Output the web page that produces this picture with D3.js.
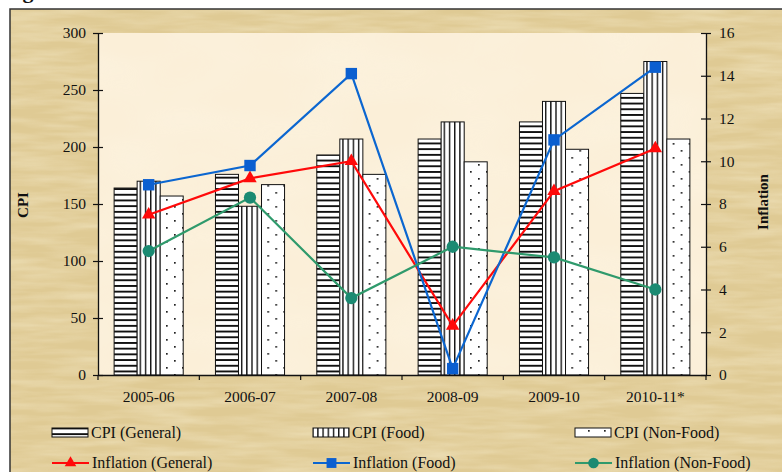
<!DOCTYPE html>
<html>
<head>
<meta charset="utf-8">
<script src="https://cdn.jsdelivr.net/npm/d3@7"></script>
<style>
  html, body { margin: 0; padding: 0; background: #ffffff; }
  svg { display: block; }
  text { font-family: "Liberation Serif", "DejaVu Serif", serif; fill: #111; }
</style>
</head>
<body>
<svg id="chart" width="782" height="472"></svg>
<script>
// Consumer price indices and inflation rates by fiscal year
const categories = ["2005-06", "2006-07", "2007-08", "2008-09", "2009-10", "2010-11*"];
const cpiGeneral = [164, 176, 193, 207, 222, 247];
const cpiFood = [170, 148, 207, 222, 240, 275];
const cpiNonFood = [157, 167, 176, 187, 198, 207];
const inflationGeneral = [7.5, 9.2, 10.0, 2.3, 8.6, 10.6];
const inflationFood = [8.9, 9.8, 14.1, 0.3, 11.0, 14.4];
const inflationNonFood = [5.8, 8.3, 3.6, 6.0, 5.5, 4.0];
const cpiTicks = [0, 50, 100, 150, 200, 250, 300];
const inflationTicks = [0, 2, 4, 6, 8, 10, 12, 14, 16];

const barSeries = [
  { name: "CPI (General)", values: cpiGeneral, pattern: "hstripe" },
  { name: "CPI (Food)", values: cpiFood, pattern: "vstripe" },
  { name: "CPI (Non-Food)", values: cpiNonFood, pattern: "dots" }
];
const lineSeries = [
  { name: "Inflation (General)", values: inflationGeneral, color: "#ff0a0a", marker: "#ff0a0a", symbol: d3.symbolTriangle, size: 78 },
  { name: "Inflation (Food)", values: inflationFood, color: "#0b66d0", marker: "#0b5fd0", symbol: d3.symbolSquare, size: 130 },
  { name: "Inflation (Non-Food)", values: inflationNonFood, color: "#2f9a6c", marker: "#1b8a72", symbol: d3.symbolCircle, size: 118 }
];

const svg = d3.select("#chart");
const W = 782, H = 472;
const plot = { left: 98, right: 706, top: 33, bottom: 375 };

// ---- defs: textures and fill patterns ----
const defs = svg.append("defs");

const parch = defs.append("filter").attr("id", "parchment")
  .attr("x", 0).attr("y", 0).attr("width", "100%").attr("height", "100%");
parch.append("feTurbulence").attr("type", "fractalNoise")
  .attr("baseFrequency", "0.015 0.12").attr("numOctaves", 3).attr("seed", 7).attr("result", "noise");
parch.append("feColorMatrix").attr("in", "noise").attr("type", "matrix")
  .attr("values", "0 0 0 0 0.98  0 0 0 0 0.92  0 0 0 0 0.72  1.1 0 0 0 -0.35")
  .attr("result", "tint");
parch.append("feComposite").attr("in", "tint").attr("in2", "SourceGraphic").attr("operator", "in");

const soft = defs.append("filter").attr("id", "cream")
  .attr("x", 0).attr("y", 0).attr("width", "100%").attr("height", "100%");
soft.append("feTurbulence").attr("type", "fractalNoise")
  .attr("baseFrequency", "0.01 0.02").attr("numOctaves", 2).attr("seed", 3).attr("result", "noise");
soft.append("feColorMatrix").attr("in", "noise").attr("type", "matrix")
  .attr("values", "0 0 0 0 1  0 0 0 0 0.98  0 0 0 0 0.92  0.6 0 0 0 -0.2")
  .attr("result", "tint");
soft.append("feComposite").attr("in", "tint").attr("in2", "SourceGraphic").attr("operator", "in");

const hs = defs.append("pattern").attr("id", "hstripe").attr("patternUnits", "userSpaceOnUse")
  .attr("width", 8).attr("height", 5.7);
hs.append("rect").attr("width", 8).attr("height", 5.7).attr("fill", "#fff");
hs.append("rect").attr("y", 0).attr("width", 8).attr("height", 1.9).attr("fill", "#111");

const vs = defs.append("pattern").attr("id", "vstripe").attr("patternUnits", "userSpaceOnUse")
  .attr("width", 5.2).attr("height", 8);
vs.append("rect").attr("width", 5.2).attr("height", 8).attr("fill", "#fff");
vs.append("rect").attr("x", 0).attr("width", 1.4).attr("height", 8).attr("fill", "#111");

const dp = defs.append("pattern").attr("id", "dots").attr("patternUnits", "userSpaceOnUse")
  .attr("width", 16).attr("height", 14);
dp.append("rect").attr("width", 16).attr("height", 14).attr("fill", "#fff");
dp.append("rect").attr("x", 4).attr("y", 3).attr("width", 1.7).attr("height", 1.7).attr("fill", "#222");
dp.append("rect").attr("x", 12).attr("y", 10).attr("width", 1.7).attr("height", 1.7).attr("fill", "#222");

// ---- backgrounds ----
svg.append("rect").attr("x", 10).attr("y", 9).attr("width", W).attr("height", H)
  .attr("fill", "#dfca94");
svg.append("rect").attr("x", 10).attr("y", 9).attr("width", W).attr("height", H)
  .attr("fill", "#fff").attr("filter", "url(#parchment)").attr("opacity", 0.6);
svg.append("rect").attr("x", 10).attr("y", 9).attr("width", W).attr("height", H)
  .attr("fill", "none").attr("stroke", "#333").attr("stroke-width", 1.5);

// Figure caption (runs above the frame)
svg.append("text").attr("x", 3).attr("y", -2)
  .style("font-size", "22px").style("font-weight", "bold").text("Figure");

svg.append("rect").attr("x", plot.left).attr("y", plot.top)
  .attr("width", plot.right - plot.left).attr("height", plot.bottom - plot.top)
  .attr("fill", "#fbefd8");
svg.append("rect").attr("x", plot.left).attr("y", plot.top)
  .attr("width", plot.right - plot.left).attr("height", plot.bottom - plot.top)
  .attr("fill", "#fff").attr("filter", "url(#cream)").attr("opacity", 0.5);

// ---- scales ----
const x0 = d3.scaleBand().domain(categories).range([plot.left, plot.right]).padding(0);
const x1 = d3.scaleBand().domain(barSeries.map(s => s.name))
  .range([0, x0.bandwidth()]).paddingInner(0).paddingOuter(0.7);
const yL = d3.scaleLinear().domain([0, 300]).range([plot.bottom, plot.top]);
const yR = d3.scaleLinear().domain([0, 16]).range([plot.bottom, plot.top]);

// ---- bars ----
const groups = svg.append("g").selectAll("g").data(categories).join("g")
  .attr("transform", c => `translate(${x0(c)},0)`);
groups.selectAll("rect")
  .data((c, i) => barSeries.map(s => ({ s, v: s.values[i] })))
  .join("rect")
  .attr("x", d => x1(d.s.name))
  .attr("y", d => yL(d.v))
  .attr("width", x1.bandwidth())
  .attr("height", d => yL(0) - yL(d.v))
  .attr("fill", d => `url(#${d.s.pattern})`)
  .attr("stroke", "#111").attr("stroke-width", 1);

// ---- axes ----
const axisFont = "15.5px";
const gL = svg.append("g").attr("transform", `translate(${plot.left},0)`)
  .call(d3.axisLeft(yL).tickValues(cpiTicks).tickSize(5).tickSizeOuter(0).tickPadding(7));
gL.selectAll(".tick line").attr("x1", 5).attr("x2", -5);
const gR = svg.append("g").attr("transform", `translate(${plot.right},0)`)
  .call(d3.axisRight(yR).tickValues(inflationTicks).tickSize(5).tickSizeOuter(0).tickPadding(8));
gR.selectAll(".tick line").attr("x1", -5).attr("x2", 5);
const gB = svg.append("g").attr("transform", `translate(0,${plot.bottom})`)
  .call(d3.axisBottom(x0).tickSize(0).tickSizeOuter(0).tickPadding(15.5));
gB.selectAll(".tick line").remove();
// category boundary ticks, at the left edge of each band and the right end
gB.selectAll("line.bound")
  .data(categories.map(c => x0(c)).concat([plot.right]))
  .join("line").attr("class", "bound")
  .attr("x1", d => d).attr("x2", d => d)
  .attr("y1", 0).attr("y2", 5);

[gL, gR, gB].forEach(g => {
  g.selectAll("text").style("font-family", "'Liberation Serif', serif")
    .style("font-size", axisFont).attr("fill", "#111");
  g.selectAll("path, line").attr("stroke", "#111").attr("stroke-width", 1.2);
  g.select(".domain").attr("stroke-width", 1.3);
});

svg.append("text").attr("transform", "translate(28,205) rotate(-90)")
  .attr("text-anchor", "middle").style("font-size", "15px").style("font-weight", "bold").text("CPI");
svg.append("text").attr("transform", "translate(768,202) rotate(-90)")
  .attr("text-anchor", "middle").style("font-size", "15px").style("font-weight", "bold").text("Inflation");

// ---- lines ----
const cx = i => x0(categories[i]) + x0.bandwidth() / 2;
lineSeries.forEach(s => {
  const line = d3.line().x((d, i) => cx(i)).y(d => yR(d));
  svg.append("path").datum(s.values).attr("d", line)
    .attr("fill", "none").attr("stroke", s.color).attr("stroke-width", 2.2);
  svg.append("g").selectAll("path").data(s.values).join("path")
    .attr("transform", (d, i) => `translate(${cx(i)},${yR(d)})`)
    .attr("d", d3.symbol().type(s.symbol).size(s.size))
    .attr("fill", s.marker);
});

// ---- legend ----
const legendX = [52, 313, 575];
const legendFont = "16px";
const row1 = svg.append("g");
barSeries.forEach((s, i) => {
  row1.append("rect").attr("x", legendX[i]).attr("y", 428).attr("width", 36).attr("height", 9)
    .attr("fill", `url(#${s.pattern})`).attr("stroke", "#111").attr("stroke-width", 1);
  row1.append("text").attr("x", legendX[i] + 39).attr("y", 437.5)
    .style("font-size", legendFont).text(s.name);
});
const row2 = svg.append("g");
lineSeries.forEach((s, i) => {
  row2.append("line").attr("x1", legendX[i]).attr("x2", legendX[i] + 37)
    .attr("y1", 463).attr("y2", 463).attr("stroke", s.color).attr("stroke-width", 2.2);
  row2.append("path").attr("transform", `translate(${legendX[i] + 18.5},463)`)
    .attr("d", d3.symbol().type(s.symbol).size(s.size * 0.75)).attr("fill", s.marker);
  row2.append("text").attr("x", legendX[i] + 40).attr("y", 468)
    .style("font-size", legendFont).text(s.name);
});
</script>
</body>
</html>
